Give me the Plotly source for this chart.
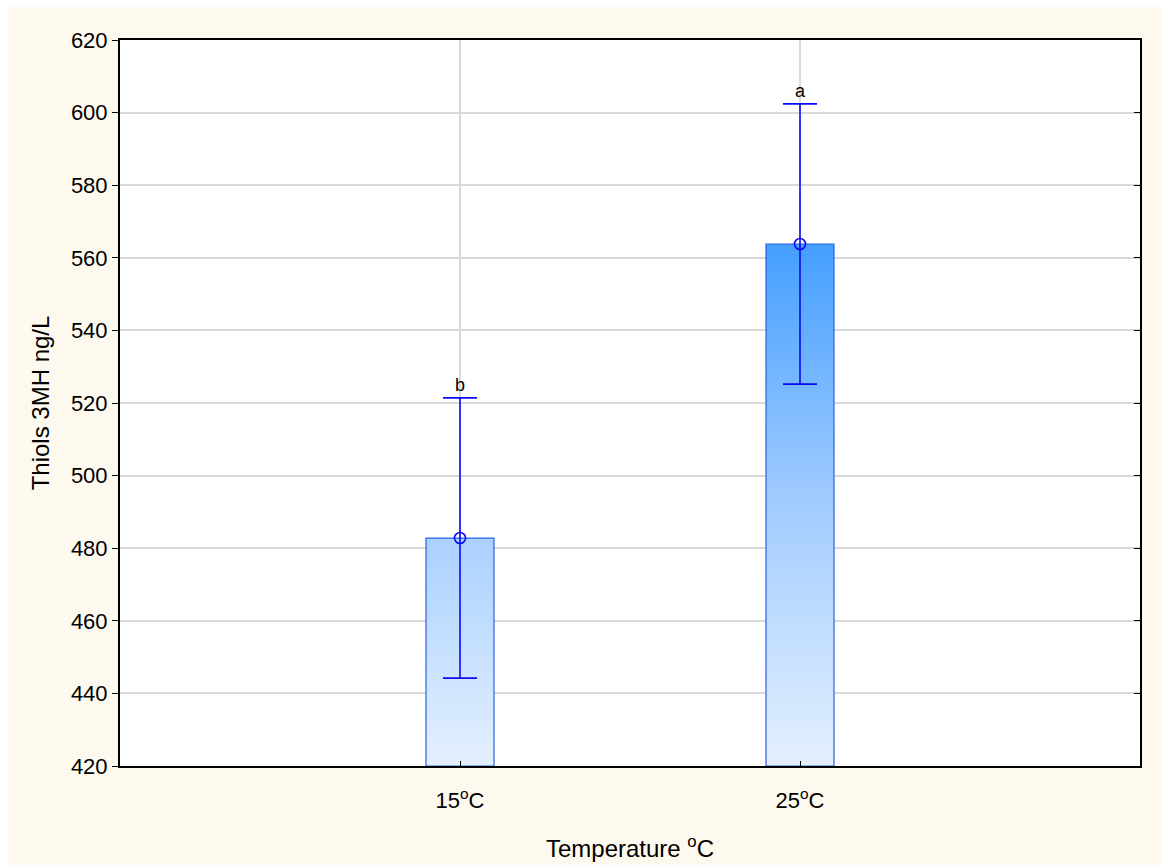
import plotly.graph_objects as go

# Thiol (3MH) concentration by fermentation temperature
categories = ["15<sup>o</sup>C", "25<sup>o</sup>C"]
positions = [1, 2]
means = [482.8, 563.8]
errors = [38.6, 38.6]
letters = ["b", "a"]

y_min, y_max = 420, 620
bar_width = 0.2
font_family = "Liberation Sans, Arial, sans-serif"

fig = go.Figure()

# Gradient-filled bars, drawn as closed polygons from the axis floor to each mean
for pos, m in zip(positions, means):
    x0, x1 = pos - bar_width / 2, pos + bar_width / 2
    fig.add_trace(go.Scatter(
        x=[x0, x0, x1, x1, x0],
        y=[y_min, m, m, y_min, y_min],
        mode="lines",
        fill="toself",
        fillgradient=dict(
            type="vertical",
            start=y_min,
            stop=max(means),
            colorscale=[[0, "#E4F0FF"], [0.5, "#A2CCFF"], [1, "#459FFF"]],
        ),
        line=dict(color="#2A62E0", width=1.2),
        hoverinfo="skip",
        showlegend=False,
    ))

# Means with error bars
fig.add_trace(go.Scatter(
    x=positions,
    y=means,
    mode="markers",
    marker=dict(symbol="circle-open", size=11, color="#0A0AF5", line=dict(width=1.6)),
    error_y=dict(type="data", array=errors, symmetric=True,
                 color="#0A0AF5", thickness=1.6, width=17),
    showlegend=False,
))

# Dummy trace so the right-hand axis is drawn
fig.add_trace(go.Scatter(x=[positions[0]], y=[y_min], yaxis="y2",
                         mode="markers", marker=dict(opacity=0),
                         hoverinfo="skip", showlegend=False))

# Significance letters above the error bars
for pos, m, e, t in zip(positions, means, errors, letters):
    fig.add_annotation(x=pos, y=m + e, text=t, showarrow=False,
                       yanchor="bottom", yshift=1,
                       font=dict(family=font_family, size=18, color="black"))

# Cream page background with a white plotting area on top of it
fig.add_shape(type="rect", xref="paper", yref="paper",
              x0=-0.1098, x1=1.05, y0=-0.2, y1=1.0455,
              fillcolor="#FEF9EF", line=dict(width=0), layer="below")
fig.add_shape(type="rect", xref="paper", yref="paper",
              x0=0, x1=1, y0=0, y1=1,
              fillcolor="white", line=dict(width=0), layer="below")

fig.update_layout(
    width=1161, height=865,
    margin=dict(l=120, r=21, t=40, b=99),
    paper_bgcolor="white",
    plot_bgcolor="white",
    font=dict(family=font_family, size=20, color="black"),
    xaxis=dict(
        range=[0, 3],
        tickvals=positions,
        ticktext=categories,
        ticks="inside", ticklen=5, tickcolor="black",
        ticklabelstandoff=14,
        showgrid=True, gridcolor="#D9D9D9", gridwidth=1.5,
        showline=True, linecolor="black", linewidth=2, mirror=True,
        zeroline=False, automargin=False,
        title=dict(text="Temperature <sup>o</sup>C", standoff=28),
        tickfont=dict(size=22),
    ),
    yaxis=dict(
        range=[y_min, y_max],
        dtick=20,
        ticks="outside", ticklen=6, tickcolor="black",
        showgrid=True, gridcolor="#D9D9D9", gridwidth=1.5,
        showline=True, linecolor="black", linewidth=2, mirror=True,
        zeroline=False, automargin=False,
        title=dict(text="Thiols 3MH ng/L", standoff=14),
        tickfont=dict(size=22),
    ),
    yaxis2=dict(
        range=[y_min, y_max], dtick=20, overlaying="y", side="right",
        ticks="inside", ticklen=6, tickcolor="black",
        showticklabels=False, showgrid=False, zeroline=False,
        automargin=False,
    ),
)

fig.write_html("out.html")
